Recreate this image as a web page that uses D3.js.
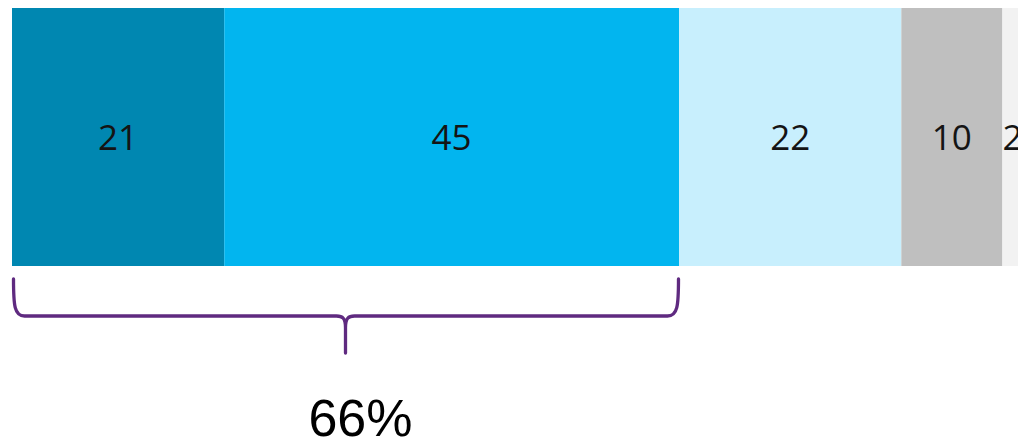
<!DOCTYPE html>
<html><head><meta charset="utf-8">
<script src="https://cdn.jsdelivr.net/npm/d3@7"></script>
<style>html,body{margin:0;padding:0;background:#fff;overflow:hidden}</style>
</head><body><svg id="c" width="1018" height="442"></svg>
<script>
const categories = ["A","B","C","D","E"];
const values = [21,45,22,10,2];
const colors = ["#0087b1","#02b5ef","#c8effd","#bfbfbf","#f2f2f2"];
const braceRange = [0,66];
const braceLabel = "66%";

(function(){
const svg = d3.select("#c");
const x = d3.scaleLinear().domain([0,100]).range([12, 1022.6]);
const y0 = 8, y1 = 266;
let cum = 0;
const segs = values.map((v,i)=>{const s={cat:categories[i],v,start:cum,end:cum+v,color:colors[i]};cum+=v;return s;});

svg.selectAll("rect.seg").data(segs).join("rect").attr("class","seg")
  .attr("x",d=>x(d.start)).attr("width",d=>x(d.end)-x(d.start))
  .attr("y",y0).attr("height",y1-y0).attr("fill",d=>d.color);

svg.selectAll("text.lbl").data(segs).join("text").attr("class","lbl")
  .attr("x",d=>x((d.start+d.end)/2)).attr("y",(y0+y1)/2+12.5)
  .attr("text-anchor","middle").attr("font-family","'Open Sans','Noto Sans',sans-serif")
  .attr("font-size",35).attr("fill","#141414").text(d=>d.v);

// brace
const bx0 = x(braceRange[0])+1.5, bx1 = x(braceRange[1])-0.5, mid = (x(braceRange[0])+x(braceRange[1]))/2;
const bTop = 279, hy = 316, tip = 353;
const p = d3.path();
p.moveTo(bx0, bTop);
p.bezierCurveTo(bx0, 306, bx0+1, hy, bx0+11, hy);
p.lineTo(mid-9, hy);
p.bezierCurveTo(mid-3, hy, mid, 318, mid, 328);
p.lineTo(mid, tip);
p.moveTo(mid, 328);
p.bezierCurveTo(mid, 318, mid+3, hy, mid+9, hy);
p.lineTo(bx1-11, hy);
p.bezierCurveTo(bx1-1, hy, bx1, 306, bx1, bTop);
svg.append("path").attr("d",p.toString()).attr("fill","none")
  .attr("stroke","#5f2a80").attr("stroke-width",3.3).attr("stroke-linecap","round").attr("stroke-linejoin","round");

svg.append("text").attr("x",mid+15).attr("y",436)
  .attr("text-anchor","middle").attr("font-family","'Liberation Sans',Arial,sans-serif")
  .attr("font-size",52).attr("fill","#000").text(braceLabel);
})();
</script></body></html>
